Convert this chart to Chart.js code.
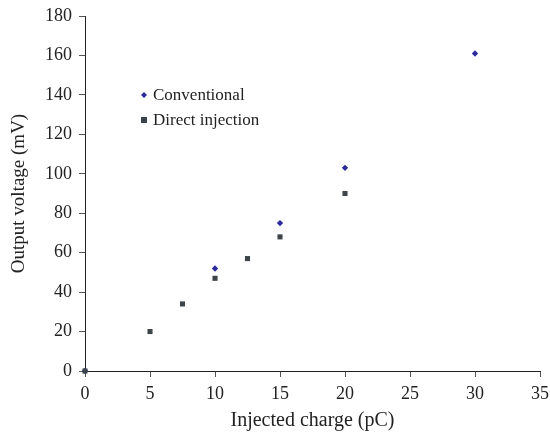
<!DOCTYPE html>
<html>
<head>
<meta charset="utf-8">
<script src="https://cdn.jsdelivr.net/npm/chart.js@4"></script>
<style>
  body { margin: 0; background: #fff; }
  #wrap { position: relative; width: 550px; height: 437px; }
</style>
</head>
<body>
<div id="wrap"><canvas id="chart" width="550" height="437"></canvas></div>
<script>
// data
const conventionalX = [0, 10, 15, 20, 30];
const conventionalY = [0, 52, 75, 103, 161];
const directX = [0, 5, 7.5, 10, 12.5, 15, 20];
const directY = [0, 20, 34, 47, 57, 68, 90];
const seriesNames = ['Conventional', 'Direct injection'];
const xTitle = 'Injected charge (pC)';
const yTitle = 'Output voltage (mV)';

const blue = '#2b2b9c';
const gray = '#3d4549';
const serif = 'Liberation Serif';

function toPoints(xs, ys) {
    return xs.map((x, i) => ({ x: x, y: ys[i] }));
}

// legend sits inside the plot, drawn by hand
const insideLegend = {
    id: 'insideLegend',
    afterDraw(chart) {
        const ctx = chart.ctx;
        ctx.save();
        ctx.font = '17px "' + serif + '"';
        ctx.textBaseline = 'middle';
        // diamond
        ctx.fillStyle = blue;
        ctx.beginPath();
        ctx.moveTo(144, 92); ctx.lineTo(147, 95); ctx.lineTo(144, 98); ctx.lineTo(141, 95);
        ctx.closePath(); ctx.fill();
        // square
        ctx.fillStyle = gray;
        ctx.fillRect(141, 117, 6, 6);
        ctx.fillStyle = '#222';
        ctx.fillText(seriesNames[0], 153, 96);
        ctx.fillText(seriesNames[1], 153, 121);
        ctx.restore();
    }
};

new Chart(document.getElementById('chart'), {
    type: 'scatter',
    data: {
        datasets: [{
            label: seriesNames[0],
            data: toPoints(conventionalX, conventionalY),
            pointStyle: 'rectRot',
            pointRadius: 3.2,
            backgroundColor: blue,
            borderColor: blue,
            borderWidth: 0,
            order: 1,
            clip: false
        }, {
            label: seriesNames[1],
            data: toPoints(directX, directY),
            pointStyle: 'rect',
            pointRadius: 3.6,
            backgroundColor: gray,
            borderColor: gray,
            borderWidth: 0,
            order: 0,
            clip: false
        }]
    },
    options: {
        responsive: false,
        animation: false,
        devicePixelRatio: 1,
        layout: { padding: { left: 0, right: 10, top: 16, bottom: 0 } },
        plugins: {
            legend: { display: false },
            tooltip: { enabled: false }
        },
        scales: {
            x: {
                type: 'linear',
                min: 0, max: 35,
                ticks: { stepSize: 5, color: '#222', font: { family: serif, size: 18 }, padding: 6 },
                grid: { display: true, drawOnChartArea: false, drawTicks: true, tickLength: 6, color: '#555' },
                border: { color: '#222', width: 1 },
                title: { display: true, text: xTitle, color: '#222', font: { family: serif, size: 20 }, padding: { top: 4 } },
                afterFit: s => { s.height = 66; s.paddingLeft = 0; s.paddingRight = 0; }
            },
            y: {
                type: 'linear',
                min: 0, max: 180,
                ticks: { stepSize: 20, color: '#222', font: { family: serif, size: 18 }, padding: 7 },
                grid: { display: true, drawOnChartArea: false, drawTicks: true, tickLength: 6, color: '#555' },
                border: { color: '#222', width: 1 },
                title: { display: true, text: yTitle, color: '#222', font: { family: serif, size: 19 }, padding: { top: 8, bottom: 4 } },
                afterFit: s => { s.width = 85; s.paddingTop = 0; s.paddingBottom = 0; }
            }
        }
    },
    plugins: [insideLegend]
});
</script>
</body>
</html>
